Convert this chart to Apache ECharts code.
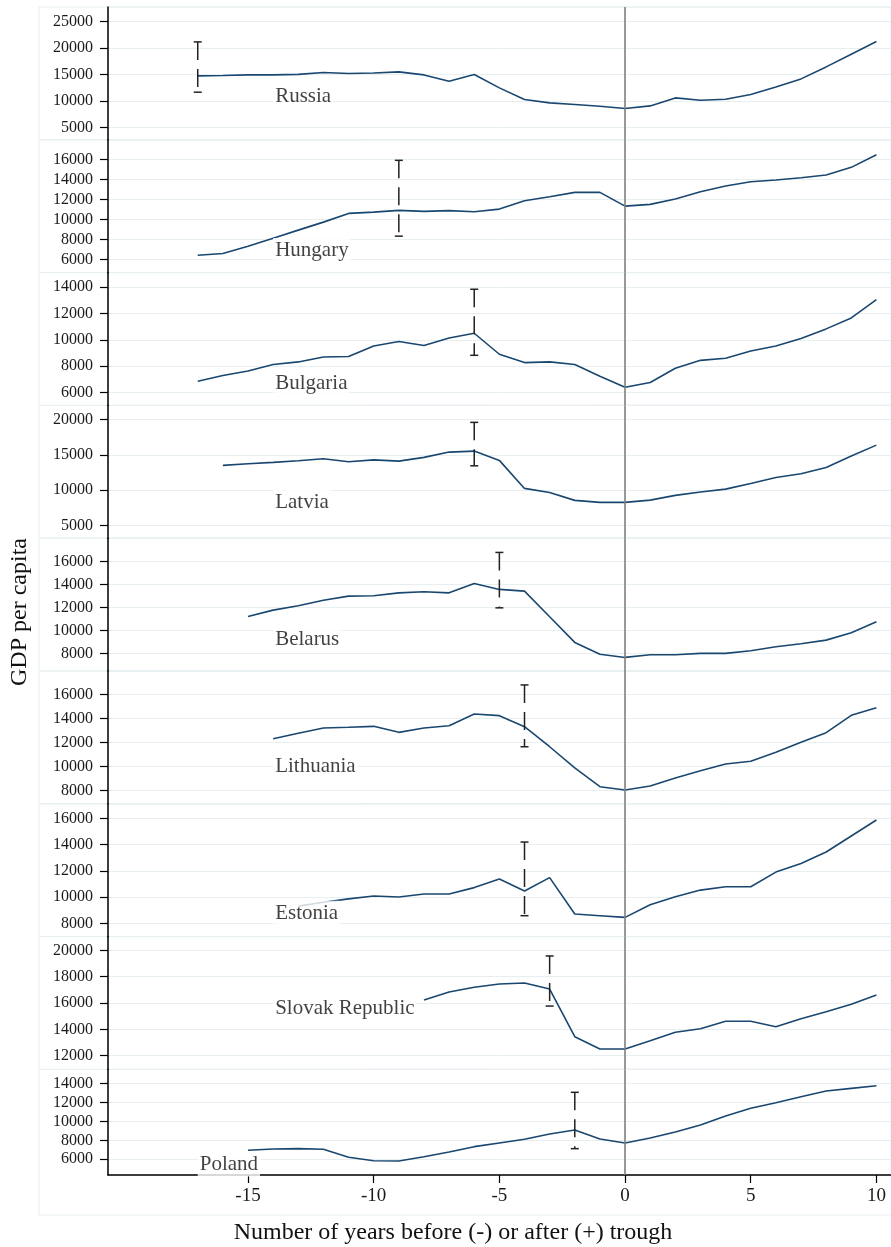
<!DOCTYPE html>
<html>
<head>
<meta charset="utf-8">
<script src="https://cdn.jsdelivr.net/npm/echarts@6/dist/echarts.min.js"></script>
<style>
  html, body { margin: 0; padding: 0; background: #fff; }
  #chart { width: 891px; height: 1247px; }
</style>
</head>
<body>
<div id="chart"></div>
<script>
const COUNTRIES = ["Russia", "Hungary", "Bulgaria", "Latvia", "Belarus", "Lithuania", "Estonia", "Slovak Republic", "Poland"];
const FIRST_YEAR = [-17, -17, -17, -16, -15, -14, -13, -8, -15];

const GDP_RUSSIA = [14770, 14850, 14960, 14960, 15060, 15420, 15230, 15320, 15530, 14960, 13770, 15040, 12510, 10320, 9680, 9380, 9060, 8620, 9110, 10620, 10190, 10380, 11260, 12700, 14210, 16470, 18870, 21260];
const GDP_HUNGARY = [6430, 6600, 7330, 8130, 8930, 9730, 10600, 10730, 10900, 10800, 10880, 10760, 11030, 11860, 12260, 12700, 12700, 11330, 11500, 12030, 12760, 13330, 13760, 13930, 14160, 14430, 15200, 16460];
const GDP_BULGARIA = [6860, 7300, 7640, 8130, 8330, 8700, 8740, 9540, 9870, 9570, 10140, 10500, 8910, 8280, 8330, 8130, 7240, 6410, 6770, 7850, 8450, 8610, 9160, 9540, 10100, 10830, 11660, 13050];
const GDP_LATVIA = [13510, 13740, 13940, 14160, 14450, 14020, 14300, 14120, 14650, 15400, 15540, 14220, 10240, 9670, 8540, 8250, 8250, 8580, 9250, 9720, 10140, 10950, 11800, 12320, 13220, 14830, 16390];
const GDP_BELARUS = [11220, 11770, 12150, 12640, 12990, 13020, 13280, 13370, 13280, 14100, 13580, 13430, 11190, 8950, 7910, 7640, 7870, 7870, 7990, 7990, 8220, 8570, 8830, 9150, 9790, 10750];
const GDP_LITHUANIA = [12300, 12750, 13190, 13250, 13330, 12830, 13190, 13380, 14360, 14220, 13300, 11630, 9860, 8300, 8030, 8360, 9030, 9630, 10190, 10420, 11170, 12000, 12800, 14250, 14880];
const GDP_ESTONIA = [9310, 9600, 9860, 10080, 10000, 10230, 10230, 10720, 11370, 10460, 11480, 8710, 8580, 8450, 9420, 10030, 10530, 10790, 10790, 11900, 12550, 13430, 14650, 15870];
const GDP_SLOVAK = [16230, 16840, 17190, 17440, 17520, 17060, 13440, 12510, 12510, 13140, 13780, 14050, 14610, 14610, 14200, 14810, 15340, 15900, 16610];
const GDP_POLAND = [6950, 7080, 7120, 7050, 6210, 5850, 5820, 6270, 6770, 7330, 7720, 8110, 8660, 9080, 8140, 7720, 8240, 8870, 9610, 10560, 11370, 11960, 12590, 13190, 13470, 13750];
const GDP_VALUES = [GDP_RUSSIA, GDP_HUNGARY, GDP_BULGARIA, GDP_LATVIA, GDP_BELARUS, GDP_LITHUANIA, GDP_ESTONIA, GDP_SLOVAK, GDP_POLAND];

// error bar per country: year, low, high
const ERR_YEAR = [-17, -9, -6, -6, -5, -4, -4, -3, -2];
const ERR_LOW = [11700, 8330, 8830, 13450, 11970, 11630, 8580, 15770, 7120];
const ERR_HIGH = [21190, 15900, 13830, 19620, 16810, 16780, 14190, 19570, 13050];

// country name annotations (data coords)
const LABEL_X = [-14, -14, -14, -14, -14, -14, -14, -14, -17];
const LABEL_Y = [10800, 6900, 6700, 8300, 9250, 10020, 8760, 15550, 5500];

const Y_TICKS = [
  [5000, 10000, 15000, 20000, 25000],
  [6000, 8000, 10000, 12000, 14000, 16000],
  [6000, 8000, 10000, 12000, 14000],
  [5000, 10000, 15000, 20000],
  [8000, 10000, 12000, 14000, 16000],
  [8000, 10000, 12000, 14000, 16000],
  [8000, 10000, 12000, 14000, 16000],
  [12000, 14000, 16000, 18000, 20000],
  [6000, 8000, 10000, 12000, 14000]
];
const Y_MIN = [2717, 4690, 5039, 3168, 6454, 6875, 6987, 10960, 4347];
const Y_MAX = [27774, 17950, 15090, 22031, 18052, 17942, 17105, 21040, 15463];

const X_TICKS = [-15, -10, -5, 0, 5, 10];
const X_MIN = -20.57;
const X_MAX = 10.58;

const FONT = "Liberation Serif";
const LINE_COLOR = "#1a476f";
const GRID_COLOR = "#e8eff1";
const PANEL_TOP = 7;
const PANEL_H = 132.8;
const PLOT_BOTTOM = 1175;
const PLOT_LEFT = 108;

const n = COUNTRIES.length;
const grid = [];
const xAxis = [];
const yAxis = [];
const series = [];
const graphic = [];

for (let i = 0; i < n; i++) {
  const top = PANEL_TOP + i * PANEL_H;
  const last = i === n - 1;
  const height = last ? PLOT_BOTTOM - top : PANEL_H;

  grid.push({
    left: PLOT_LEFT,
    right: 0,
    top: top,
    height: height,
    show: true,
    borderColor: GRID_COLOR,
    borderWidth: 1,
    containLabel: false
  });

  // outer box of each sub-graph
  graphic.push({
    type: "rect",
    silent: true,
    z: -1,
    shape: { x: 39, y: top, width: 900, height: last ? 1215 - top : PANEL_H },
    style: { fill: "none", stroke: GRID_COLOR, lineWidth: 1 }
  });

  xAxis.push({
    type: "value",
    gridIndex: i,
    min: X_MIN,
    max: X_MAX,
    show: last,
    axisLine: { show: true, onZero: false, lineStyle: { color: "#000", width: 1.5 } },
    axisTick: { show: true, length: 8, customValues: X_TICKS, lineStyle: { color: "#000", width: 1.2 } },
    axisLabel: { customValues: X_TICKS, margin: 12, fontFamily: FONT, fontSize: 19, color: "#1a1a1a" },
    splitLine: { show: false }
  });

  yAxis.push({
    type: "value",
    gridIndex: i,
    min: Y_MIN[i],
    max: Y_MAX[i],
    axisLine: { show: true, onZero: false, lineStyle: { color: "#000", width: 1.5 } },
    axisTick: { show: true, length: 8, customValues: Y_TICKS[i], lineStyle: { color: "#000", width: 1.2 } },
    axisLabel: {
      customValues: Y_TICKS[i],
      margin: 15,
      fontFamily: FONT,
      fontSize: 16,
      color: "#1a1a1a",
      formatter: v => String(v)
    },
    splitLine: { show: true, lineStyle: { color: GRID_COLOR, width: 1 } }
  });

  const values = GDP_VALUES[i];
  const points = values.map((v, k) => [FIRST_YEAR[i] + k, v]);

  series.push({
    name: COUNTRIES[i],
    type: "line",
    xAxisIndex: i,
    yAxisIndex: i,
    data: points,
    showSymbol: false,
    symbol: "none",
    z: 2,
    lineStyle: { color: LINE_COLOR, width: 1.6 },
    markLine: {
      silent: true,
      symbol: "none",
      label: { show: false },
      lineStyle: { color: "#7f7f7f", width: 1.6, type: "solid" },
      data: [{ xAxis: 0 }]
    }
  });

  series.push({
    name: COUNTRIES[i] + " range",
    type: "custom",
    xAxisIndex: i,
    yAxisIndex: i,
    z: 4,
    data: [[ERR_YEAR[i], ERR_LOW[i], ERR_HIGH[i]]],
    encode: { x: 0, y: [1, 2] },
    renderItem(params, api) {
      const x = api.value(0);
      const hi = api.coord([x, api.value(2)]);
      const lo = api.coord([x, api.value(1)]);
      const style = { stroke: "#222", lineWidth: 1.5, fill: "none" };
      return {
        type: "group",
        children: [
          { type: "line", shape: { x1: hi[0], y1: hi[1], x2: lo[0], y2: lo[1] }, style: Object.assign({ lineDash: [18, 9] }, style) },
          { type: "line", shape: { x1: hi[0] - 4, y1: hi[1], x2: hi[0] + 4, y2: hi[1] }, style },
          { type: "line", shape: { x1: lo[0] - 4, y1: lo[1], x2: lo[0] + 4, y2: lo[1] }, style }
        ]
      };
    }
  });

  series.push({
    name: COUNTRIES[i] + " label",
    type: "scatter",
    xAxisIndex: i,
    yAxisIndex: i,
    zlevel: 1,
    z: 5,
    symbolSize: 0,
    silent: true,
    data: [[LABEL_X[i], LABEL_Y[i]]],
    label: {
      show: true,
      formatter: COUNTRIES[i],
      position: "right",
      distance: 0,
      fontFamily: FONT,
      fontSize: 21,
      color: "#111",
      backgroundColor: "#fff",
      padding: [2, 2]
    }
  });
}

graphic.push({
  type: "text",
  x: 20,
  y: 612,
  rotation: Math.PI / 2,
  style: {
    text: "GDP per capita",
    fontFamily: FONT,
    fontSize: 24,
    fill: "#111",
    align: "center",
    verticalAlign: "middle"
  }
});

graphic.push({
  type: "text",
  x: 453,
  y: 1233,
  style: {
    text: "Number of years before (-) or after (+) trough",
    fontFamily: FONT,
    fontSize: 24,
    fill: "#111",
    align: "center",
    verticalAlign: "middle"
  }
});

const chart = echarts.init(document.getElementById("chart"));
chart.setOption({
  animation: false,
  backgroundColor: "#fff",
  grid,
  xAxis,
  yAxis,
  series,
  graphic
});
</script>
</body>
</html>
